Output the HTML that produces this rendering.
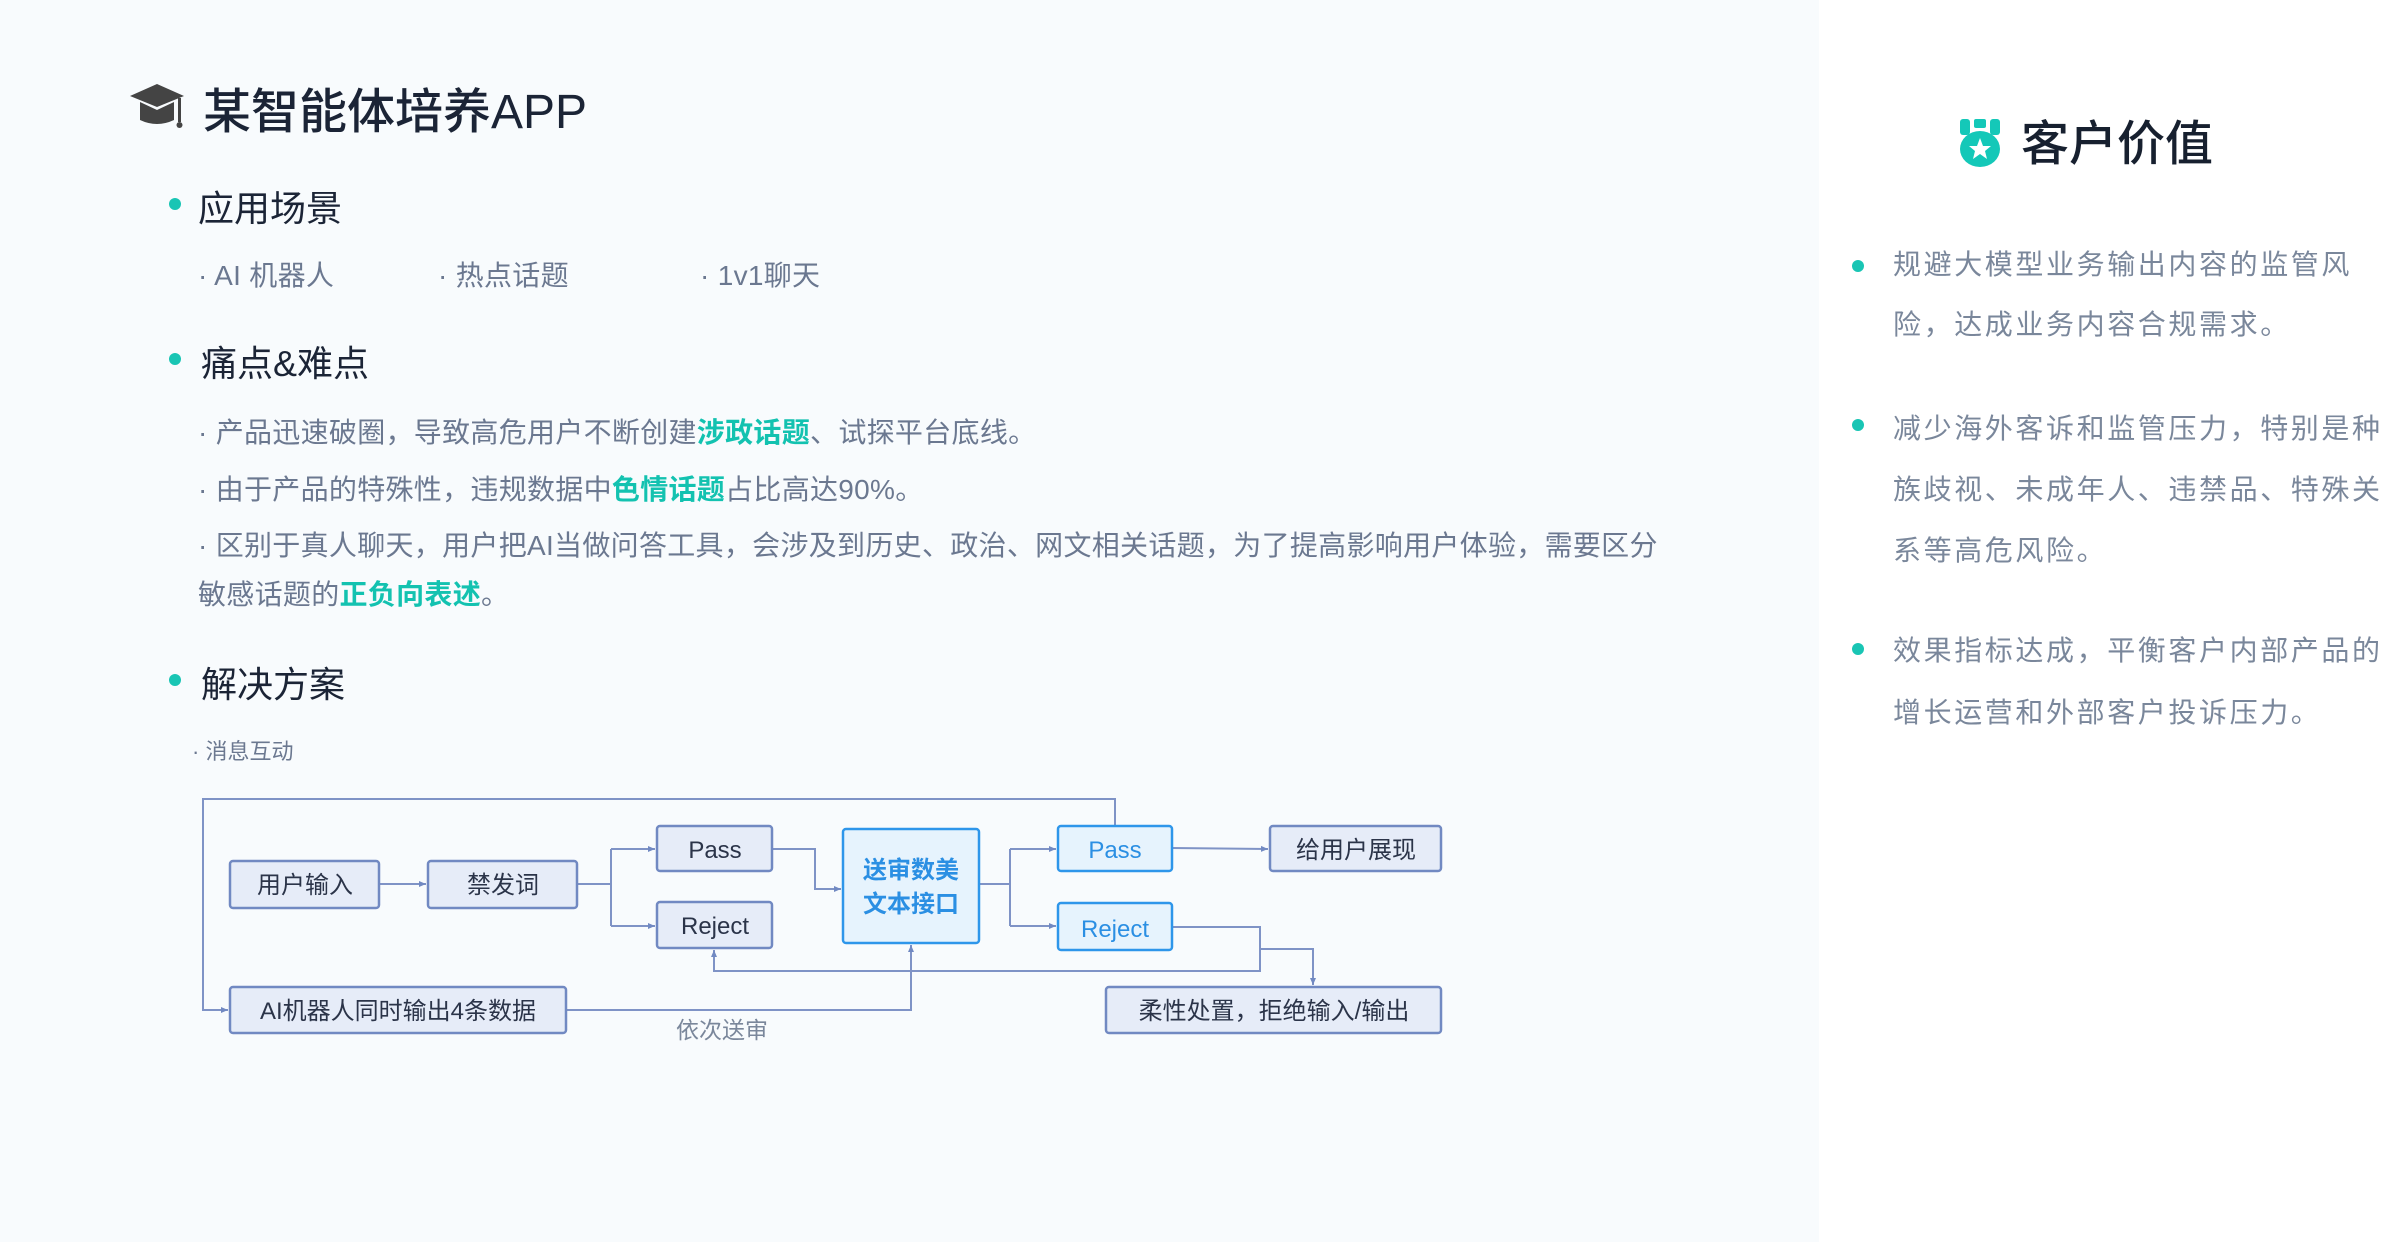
<!DOCTYPE html>
<html><head><meta charset="utf-8"><style>
*{margin:0;padding:0;box-sizing:border-box}
body{width:2400px;height:1242px;position:relative;background:#f8fbfd;font-family:"Liberation Sans","Noto Sans CJK SC",sans-serif;overflow:hidden}
.right{position:absolute;left:1819px;top:0;width:581px;height:1242px;background:#fff}
.t{position:absolute;white-space:nowrap}
.h1{font-size:48px;color:#1b2436;font-weight:500}
.h2{font-size:36px;color:#1b2436}
.dot{position:absolute;width:12px;height:12px;border-radius:50%;background:#19c5b4}
.b{font-size:28px;color:#6b7890;letter-spacing:0.3px}
.g{color:#13c2b0;font-weight:bold}
.r{font-size:28px;color:#7a879b;letter-spacing:2.6px}
</style></head><body>
<div class="right"></div>
<svg class="t" style="left:128px;top:80px" width="58" height="50" viewBox="0 0 58 50">
<polygon points="29,4 56,16 29,27 2,16" fill="#444"/>
<path d="M12,22 L12,40 Q29,48 46,40 L46,22 L29,30 Z" fill="#444"/>
<rect x="50" y="18" width="3" height="24" fill="#444"/><circle cx="51.5" cy="45" r="3" fill="#444"/>
</svg>
<div class="t h1" style="left:203px;top:72px">某智能体培养APP</div>
<div class="dot" style="left:169px;top:198px"></div>
<div class="t h2" style="left:198px;top:180px">应用场景</div>
<div class="t b" style="left:198px;top:254px">· AI 机器人</div>
<div class="t b" style="left:438px;top:254px">· 热点话题</div>
<div class="t b" style="left:700px;top:254px">· 1v1聊天</div>
<div class="dot" style="left:169px;top:353px"></div>
<div class="t h2" style="left:201px;top:335px">痛点&amp;难点</div>
<div class="t b" style="left:198px;top:411px">· 产品迅速破圈，导致高危用户不断创建<span class="g">涉政话题</span>、试探平台底线。</div>
<div class="t b" style="left:198px;top:468px">· 由于产品的特殊性，违规数据中<span class="g">色情话题</span>占比高达90%。</div>
<div class="t b" style="left:198px;top:524px">· 区别于真人聊天，用户把AI当做问答工具，会涉及到历史、政治、网文相关话题，为了提高影响用户体验，需要区分</div>
<div class="t b" style="left:198px;top:573px">敏感话题的<span class="g">正负向表述</span>。</div>
<div class="dot" style="left:169px;top:674px"></div>
<div class="t h2" style="left:201px;top:656px">解决方案</div>
<div class="t" style="left:192px;top:734px;font-size:22px;color:#6b7890">· 消息互动</div>

<svg class="t" style="left:0;top:0" width="1819" height="1242">
<defs><marker id="a" markerWidth="8" markerHeight="8" refX="7" refY="4" orient="auto" markerUnits="userSpaceOnUse"><path d="M0,1 L7,4 L0,7Z" fill="#7189c2"/></marker></defs>
<g fill="none" stroke="#7f93c6" stroke-width="2">
<path d="M379,884 L426,884" marker-end="url(#a)"/>
<path d="M577,884 L611,884 M611,849 L611,926 M611,849 L655,849" marker-end="url(#a)"/>
<path d="M611,926 L655,926" marker-end="url(#a)"/>
<path d="M772,849 L815,849 L815,889 L841,889" marker-end="url(#a)"/>
<path d="M979,884 L1010,884 M1010,849 L1010,926 M1010,849 L1056,849" marker-end="url(#a)"/>
<path d="M1010,926 L1056,926" marker-end="url(#a)"/>
<path d="M1172,848 L1268,849" marker-end="url(#a)"/>
<path d="M1115,826 L1115,799 L203,799 L203,1010 L228,1010" marker-end="url(#a)"/>
<path d="M1172,927 L1260,927 L1260,971 L714,971 L714,950" marker-end="url(#a)"/>
<path d="M1260,949 L1313,949 L1313,985" marker-end="url(#a)"/>
<path d="M566,1010 L911,1010 L911,945" marker-end="url(#a)"/>
</g>
<g stroke="#7189c2" stroke-width="2.5" fill="#e6ecf8">
<rect x="230" y="861" width="149" height="47" rx="3"/>
<rect x="428" y="861" width="149" height="47" rx="3"/>
<rect x="657" y="826" width="115" height="45" rx="3"/>
<rect x="657" y="902" width="115" height="46" rx="3"/>
<rect x="1270" y="826" width="171" height="45" rx="3"/>
<rect x="230" y="987" width="336" height="46" rx="3"/>
<rect x="1106" y="987" width="335" height="46" rx="3"/>
</g>
<g stroke="#2e96ea" stroke-width="2.5" fill="#e6f3fd">
<rect x="843" y="829" width="136" height="114" rx="3"/>
<rect x="1058" y="826" width="114" height="45" rx="3"/>
<rect x="1058" y="903" width="114" height="47" rx="3"/>
</g>
<g font-size="24" fill="#2b3449" text-anchor="middle" font-family="Liberation Sans,Noto Sans CJK SC,sans-serif">
<text x="305" y="893">用户输入</text>
<text x="503" y="893">禁发词</text>
<text x="715" y="858">Pass</text>
<text x="715" y="934">Reject</text>
<text x="1356" y="858">给用户展现</text>
<text x="398" y="1019">AI机器人同时输出4条数据</text>
<text x="1274" y="1019">柔性处置，拒绝输入/输出</text>
<text x="722" y="1038" fill="#7a879b" font-size="23">依次送审</text>
</g>
<g font-size="24" fill="#2b8fe3" text-anchor="middle" font-family="Liberation Sans,Noto Sans CJK SC,sans-serif">
<text x="911" y="878" font-weight="bold">送审数美</text>
<text x="911" y="912" font-weight="bold">文本接口</text>
<text x="1115" y="858">Pass</text>
<text x="1115" y="937">Reject</text>
</g>
</svg>

<svg class="t" style="left:1959px;top:118px" width="42" height="50" viewBox="0 0 42 50">
<rect x="1" y="1" width="10" height="16" rx="3" fill="#14c8b8"/><rect x="15" y="1" width="12" height="9" rx="2" fill="#14c8b8"/><rect x="31" y="1" width="10" height="16" rx="3" fill="#14c8b8"/>
<ellipse cx="21" cy="31" rx="20" ry="18" fill="#14c8b8"/>
<polygon points="21,20 24,28 32,28 26,33 28,41 21,36 14,41 16,33 10,28 18,28" fill="#fff"/>
</svg>
<div class="t" style="left:2021px;top:104px;font-size:48px;color:#17202f;font-weight:500">客户价值</div>
<div class="dot" style="left:1852px;top:260px"></div>
<div class="t r" style="left:1893px;top:243px">规避大模型业务输出内容的监管风</div>
<div class="t r" style="left:1893px;top:303px">险，达成业务内容合规需求。</div>
<div class="dot" style="left:1852px;top:419px"></div>
<div class="t r" style="left:1893px;top:407px">减少海外客诉和监管压力，特别是种</div>
<div class="t r" style="left:1893px;top:468px">族歧视、未成年人、违禁品、特殊关</div>
<div class="t r" style="left:1893px;top:529px">系等高危风险。</div>
<div class="dot" style="left:1852px;top:643px"></div>
<div class="t r" style="left:1893px;top:629px">效果指标达成，平衡客户内部产品的</div>
<div class="t r" style="left:1893px;top:691px">增长运营和外部客户投诉压力。</div>
</body></html>
